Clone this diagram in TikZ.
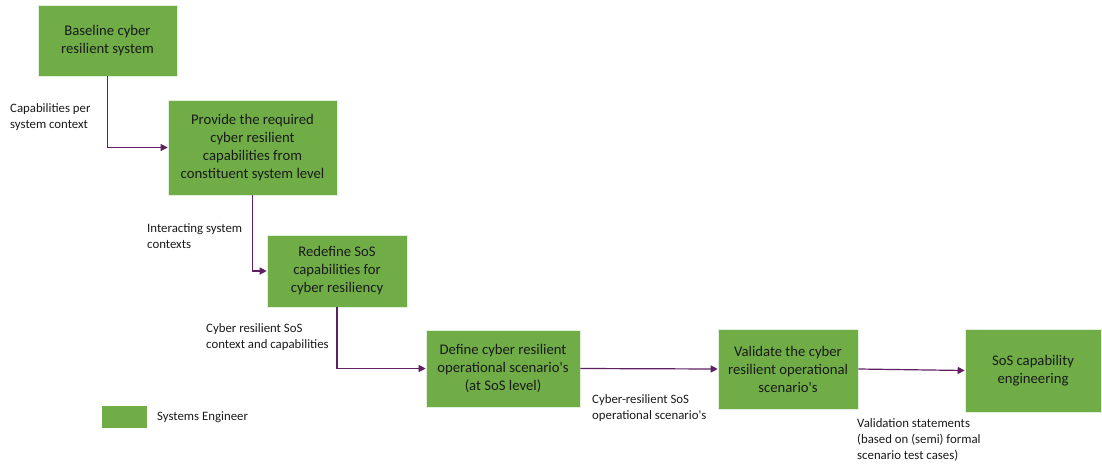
\documentclass[tikz,border=0pt]{standalone}
\usepackage{fontspec}
\setmainfont{Carlito}[Ligatures=TeXOff]
\usetikzlibrary{arrows.meta}
\definecolor{engineer}{HTML}{70AD47}
\definecolor{flow}{HTML}{5E2061}
\definecolor{ink}{HTML}{1A1A1A}
\tikzset{
  task/.style={fill=engineer, draw=white!80!engineer, line width=0.6pt, text=ink,
    align=center, inner sep=0pt, font=\fontsize{14.7}{18}\selectfont},
  note/.style={text=ink, align=left, inner sep=0pt, anchor=west,
    font=\fontsize{12.8}{16}\selectfont},
  link/.style={draw=flow, line width=1.2pt, -{Triangle[length=7pt,width=7pt]}}
}
\begin{document}
\begin{tikzpicture}[x=1pt,y=-1pt]
\useasboundingbox (0,0) rectangle (1102,463);

% process steps
\node[task, minimum width=139pt, minimum height=71pt] (b1) at (107.5,40.5)
  {Baseline cyber\\resilient system};
\node[task, minimum width=169pt, minimum height=95pt] (b2) at (252.5,147.5)
  {Provide the required\\cyber resilient\\capabilities from\\constituent system level};
\node[task, minimum width=140pt, minimum height=72pt] (b3) at (337,271)
  {Redefine SoS\\capabilities for\\cyber resiliency};
\node[task, minimum width=154pt, minimum height=77pt] (b4) at (503,368.5)
  {Define cyber resilient\\operational scenario's\\(at SoS level)};
\node[task, minimum width=140pt, minimum height=80pt] (b5) at (788,369)
  {Validate the cyber\\resilient operational\\scenario's};
\node[task, minimum width=136pt, minimum height=83pt] (b6) at (1033,370.5)
  {SoS capability\\engineering};

% information flows
\draw[link] (b1.south) |- (b2.west);
\draw[link] (b2.south) |- (b3.west);
\draw[link] (b3.south) |- (b4.west);
\draw[link] (b4.east) -- (b5.west);
\draw[link] (b5.east) -- (b6.west);

% flow labels
\node[note] (l1) at (10,117.5) {Capabilities per\\system context};
\node[note] (l2) at (147,236) {Interacting system\\contexts};
\node[note] (l3) at (206,337) {Cyber resilient SoS\\context and capabilities};
\node[note] (l4) at (592,408) {Cyber-resilient SoS\\operational scenario's};
\node[note] (l5) at (857,440) {Validation statements\\(based on (semi) formal\\scenario test cases)};

% legend
\node[fill=engineer, minimum width=45pt, minimum height=22pt, inner sep=0pt] (key) at (124.5,417) {};
\node[note] (keytext) at (157,417.5) {Systems Engineer};
\end{tikzpicture}
\end{document}
